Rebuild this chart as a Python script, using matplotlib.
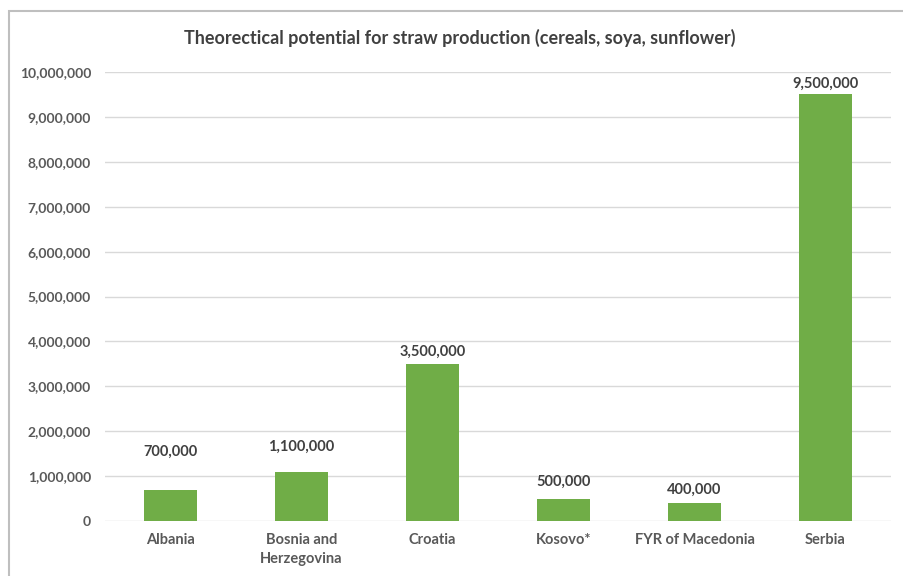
import matplotlib.pyplot as plt
from matplotlib.patches import Rectangle
from matplotlib.ticker import FuncFormatter

countries = ['Albania', 'Bosnia and\nHerzegovina', 'Croatia', 'Kosovo*',
             'FYR of Macedonia', 'Serbia']
straw = [700000, 1100000, 3500000, 500000, 400000, 9500000]
# labels were placed by hand in the original, so their gap above the bar varies
label_gap_px = [38, 25, 12, 17, 13, 11]

plt.rcParams['font.family'] = ['Lato', 'DejaVu Sans']

fig = plt.figure(figsize=(9.04, 5.76), dpi=100)
ax = fig.add_axes([105 / 904, 1 - 521 / 576, 786 / 904, 449 / 576])

# chart border (only top and left visible in the crop)
fig.patches.append(Rectangle((9 / 904, -0.2), 1.2, 1.2 - 11 / 576,
                             transform=fig.transFigure, fill=False,
                             edgecolor='#BFBFBF', linewidth=1.5))

x = range(len(countries))
ax.bar(x, straw, width=0.4, color='#70AD47', zorder=3)

for xi, val, gap in zip(x, straw, label_gap_px):
    ax.annotate(f'{val:,}', (xi, val), xytext=(0, gap), textcoords='offset pixels',
                ha='center', va='center', fontsize=10.5, fontweight='bold',
                color='#404040')

ax.set_xlim(-0.5, len(countries) - 0.5)
ax.set_ylim(0, 10000000)
ax.set_yticks(range(0, 10000001, 1000000))
ax.yaxis.set_major_formatter(FuncFormatter(lambda v, p: f'{int(v):,}'))
ax.set_xticks(list(x))
ax.set_xticklabels(countries, linespacing=1.45)
ax.grid(axis='y', color='#D9D9D9', linewidth=1, zorder=0)
ax.tick_params(length=0, labelsize=10, labelcolor='#595959')
ax.tick_params(axis='x', pad=9, labelsize=10.5)
ax.tick_params(axis='y', pad=10)
for lab in ax.get_xticklabels() + ax.get_yticklabels():
    lab.set_fontweight('bold')
for s in ax.spines.values():
    s.set_visible(False)

fig.text(460 / 904, 1 - 38 / 576, 'Theorectical potential for straw production (cereals, soya, sunflower)',
         ha='center', va='center', fontsize=13, fontweight='bold', color='#404040')

fig.savefig('out.png', dpi=100, facecolor='white')
